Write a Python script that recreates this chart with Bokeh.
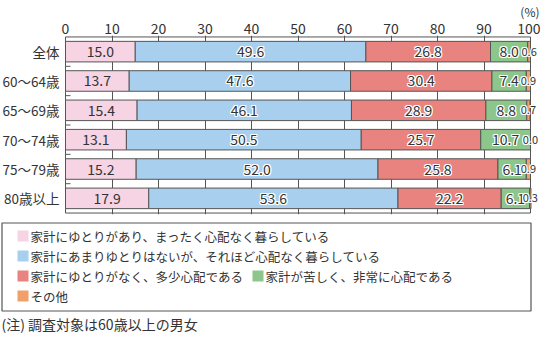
from bokeh.plotting import figure
from bokeh.models import ColumnDataSource, FixedTicker, Range1d, LabelSet
from bokeh.layouts import column
from bokeh.embed import file_html
from bokeh.resources import INLINE
from bokeh.core.properties import value

# ---- data ----
categories = ["全体", "60〜64歳", "65〜69歳", "70〜74歳", "75〜79歳", "80歳以上"]
series_names = [
    "家計にゆとりがあり、まったく心配なく暮らしている",
    "家計にあまりゆとりはないが、それほど心配なく暮らしている",
    "家計にゆとりがなく、多少心配である",
    "家計が苦しく、非常に心配である",
    "その他",
]
yutori_ari = [15.0, 13.7, 15.4, 13.1, 15.2, 17.9]
amari_nai = [49.6, 47.6, 46.1, 50.5, 52.0, 53.6]
tashou_shinpai = [26.8, 30.4, 28.9, 25.7, 25.8, 22.2]
hijou_shinpai = [8.0, 7.4, 8.8, 10.7, 6.1, 6.1]
sonota = [0.6, 0.9, 0.7, 0.0, 0.9, 0.3]
x_ticks = [0, 10, 20, 30, 40, 50, 60, 70, 80, 90, 100]
note_text = "(注) 調査対象は60歳以上の男女"
unit_text = "(%)"

series = [yutori_ari, amari_nai, tashou_shinpai, hijou_shinpai, sonota]
colors = ["#F6D4E4", "#A8CFEE", "#E98380", "#8CC68A", "#F0A068"]

FONT = "Noto Sans CJK JP"
TXT = "#333333"
LINE = "#555555"

W = 540
n = len(categories)
centers = [i + 0.5 for i in range(n)]

# frame spans full width; 0% at ~65px, 100% at ~530px
X0_PX, X100_PX = 65.0, 530.0
ppu = (X100_PX - X0_PX) / 100.0
x_lo = -X0_PX / ppu
x_hi = 100 + (W - X100_PX) / ppu

p = figure(width=W, height=216, output_backend="svg", toolbar_location=None,
           x_range=Range1d(x_lo, x_hi), y_range=Range1d(n + 0.05, -0.05),
           x_axis_location="above", y_axis_location=None, tools="",
           min_border_left=0, min_border_right=0, min_border_top=31, min_border_bottom=2)
p.outline_line_color = None
p.background_fill_color = "white"
p.border_fill_color = "white"

p.title.text = unit_text
p.title.align = "right"
p.title.offset = 1
p.title.text_font = FONT
p.title.text_font_size = "12px"
p.title.text_font_style = "normal"
p.title.text_color = TXT
p.title.text_line_height = 1.0
p.title.standoff = 0

# x axis (top)
p.xaxis.ticker = FixedTicker(ticks=x_ticks)
p.xaxis.axis_label = None
p.xaxis.major_tick_in = 0
p.xaxis.major_tick_out = 0
p.xaxis.minor_tick_line_color = None
p.xaxis.axis_line_color = None
p.xaxis.major_label_text_font = FONT
p.xaxis.major_label_text_font_size = "14px"
p.xaxis.major_label_text_line_height = 1.0
p.xaxis.major_label_text_color = TXT
p.xaxis.major_label_standoff = 2

p.xgrid.ticker = FixedTicker(ticks=x_ticks[1:-1])
p.xgrid.grid_line_color = LINE
p.ygrid.grid_line_color = None

# category labels and row-boundary ticks
p.text(x=[x_ticks[0]] * n, y=centers, text=categories, x_offset=-6,
       text_align="right", text_baseline="middle",
       text_font=value(FONT), text_font_size="13.5px", text_color=TXT)
p.ray(x=[x_ticks[0]] * (n - 1), y=list(range(1, n)), length=5,
      length_units="screen", angle=0, line_color=LINE, line_width=1)

# plot box 0-100
p.quad(left=[x_ticks[0]], right=[x_ticks[-1]], top=[0], bottom=[n],
       fill_color=None, line_color=LINE, line_width=1)

halo_offsets = [(-1, 0), (1, 0), (0, -1), (0, 1), (-1, -1), (1, 1), (-1, 1), (1, -1)]

left = [0.0] * n
for k, (vals, col) in enumerate(zip(series, colors)):
    right = [l + v for l, v in zip(left, vals)]
    src = ColumnDataSource(dict(
        y=centers, left=left, right=right,
        mid=[(l + r) / 2 for l, r in zip(left, right)],
        text=[f"{v:.1f}" for v in vals],
    ))
    p.hbar(y="y", left="left", right="right", height=0.7, source=src,
           fill_color=col, line_color=LINE, line_width=1)
    small = (k == len(series) - 1)
    fs = "11px" if small else "14px"
    if k > 0:
        for dx, dy in halo_offsets:
            p.add_layout(LabelSet(x="mid", y="y", text="text", source=src,
                                  x_offset=dx, y_offset=dy,
                                  text_align="center", text_baseline="middle",
                                  text_font=value(FONT), text_font_size=fs,
                                  text_color="white"))
    p.add_layout(LabelSet(x="mid", y="y", text="text", source=src,
                          text_align="center", text_baseline="middle",
                          text_font=value(FONT), text_font_size=fs,
                          text_color=TXT))
    left = right

# ---- legend + note panel ----
H = 118
q = figure(width=W, height=H, output_backend="svg", toolbar_location=None, tools="",
           x_range=Range1d(0, W), y_range=Range1d(H, 0),
           x_axis_location=None, y_axis_location=None,
           min_border=0, min_border_left=0, min_border_right=0,
           min_border_top=0, min_border_bottom=0)
q.outline_line_color = None
q.grid.visible = False

q.quad(left=[1.5], right=[X100_PX + 0.5], top=[6.5], bottom=[94.5],
       fill_color=None, line_color=LINE, line_width=1.2)

item_x = [17, 17, 17, 252, 17]
item_y = [19.5, 39.5, 59.5, 59.5, 79.5]
q.rect(x=[x + 5.5 for x in item_x], y=item_y, width=11, height=11,
       fill_color=colors, line_color=None)
q.text(x=[x + 13 for x in item_x], y=item_y, text=series_names,
       text_font=value(FONT), text_font_size="12.5px", text_color=TXT,
       text_baseline="middle", text_align="left")
q.text(x=[1], y=[107.5], text=[note_text], text_font=value(FONT),
       text_font_size="14px", text_color=TXT, text_baseline="middle")

open("out.html", "w").write(file_html(column(p, q, spacing=0), INLINE))
